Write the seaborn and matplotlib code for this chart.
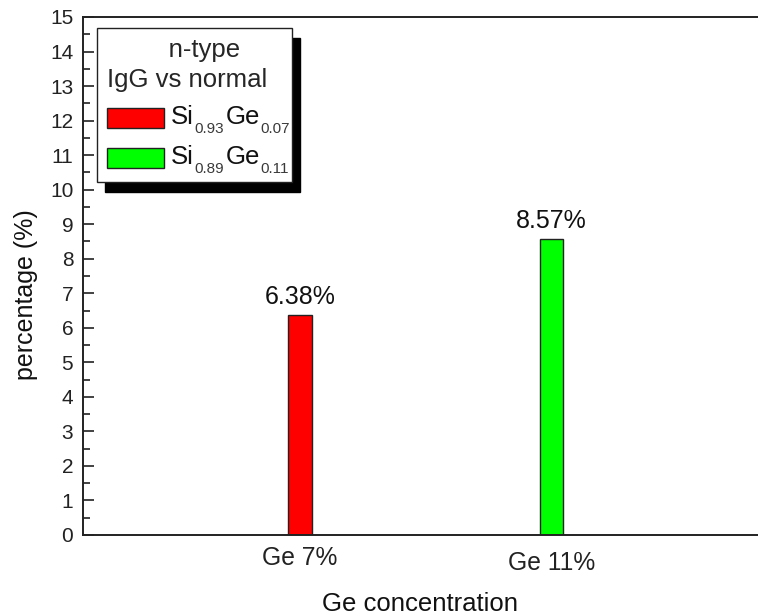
import matplotlib
matplotlib.use("Agg")
import matplotlib.pyplot as plt
from matplotlib.patches import Patch, Rectangle
from matplotlib.text import Text
from matplotlib.textpath import TextToPath
from matplotlib.font_manager import FontProperties
from matplotlib.ticker import MultipleLocator
import seaborn as sns
import pandas as pd

# Data
categories = ["Ge 7%", "Ge 11%"]
percentages = [6.38, 8.57]
# Alloy composition for each legend entry: (Si fraction, Ge fraction)
alloy_si = ["0.93", "0.89"]
alloy_ge = ["0.07", "0.11"]
bar_colors = ["#ff0000", "#00ff00"]

sns.set_style("ticks")
plt.rcParams["font.family"] = ["Liberation Sans", "DejaVu Sans"]

FAMILY = "Liberation Sans"
MAIN_FS, SUB_FS, SUB_DROP = 18.5, 11, 6.5
_ttp = TextToPath()


def text_width(s, size):
    w, _, _ = _ttp.get_text_width_height_descent(
        s, FontProperties(family=FAMILY, size=size), ismath=False)
    return w


class AlloyHandler:
    """Legend handle: a colour swatch followed by a Si(x)Ge(y) formula."""

    def __init__(self, si, ge, swatch_w=41.0, gap=5.0, lift=3.0):
        self.si, self.ge = si, ge
        self.swatch_w, self.gap, self.lift = swatch_w, gap, lift

    def legend_artist(self, legend, orig_handle, fontsize, handlebox):
        x0, y0 = -handlebox.xdescent, -handlebox.ydescent
        h = handlebox.height
        tr = handlebox.get_transform()
        sw = Rectangle((x0, y0), self.swatch_w, h,
                       facecolor=orig_handle.get_facecolor(),
                       edgecolor="#222222", linewidth=1.0, transform=tr)
        handlebox.add_artist(sw)
        base = y0 + self.lift
        x = x0 + self.swatch_w + self.gap
        parts = [("Si", MAIN_FS, 0.0, "#111111"),
                 (self.si, SUB_FS, SUB_DROP, "#3a3a3a"),
                 ("Ge", MAIN_FS, 0.0, "#111111"),
                 (self.ge, SUB_FS, SUB_DROP, "#3a3a3a")]
        for s, size, drop, col in parts:
            t = Text(x, base - drop, s, fontsize=size, family=FAMILY,
                     color=col, ha="left", va="baseline")
            handlebox.add_artist(t)
            x += text_width(s, size) + (1.0 if size == SUB_FS else 0.5)
        return sw


df = pd.DataFrame({"group": categories, "value": percentages})

fig = plt.figure(figsize=(7.58, 6.16), dpi=100)
ax = fig.add_axes([83 / 758, 1 - 535 / 616, 1 - 83 / 758, (535 - 17) / 616])

sns.barplot(data=df, x="group", y="value", hue="group", palette=bar_colors,
            order=categories, hue_order=categories, width=0.0934, saturation=1,
            edgecolor="#222222", linewidth=1.0, legend=False, ax=ax)

for cont in ax.containers:
    ax.bar_label(cont, fmt="%.2f%%", padding=4, fontsize=18, color="#111111")

ax.set_xlim(-0.863, 1.821)
ax.set_ylim(0, 15)
ax.yaxis.set_major_locator(MultipleLocator(1))
ax.yaxis.set_minor_locator(MultipleLocator(0.5))
ax.tick_params(axis="y", which="major", direction="in", length=8, width=1.2,
               pad=7, labelsize=15, colors="#222222")
ax.tick_params(axis="y", which="minor", direction="in", length=5, width=1.2,
               colors="#222222")
ax.tick_params(axis="x", length=0, labelsize=17.7, labelcolor="#222222", pad=8)
ax.xaxis.get_major_ticks()[1].set_pad(11.5)

for side in ["left", "bottom", "top"]:
    ax.spines[side].set_visible(True)
    ax.spines[side].set_linewidth(1.4)
    ax.spines[side].set_color("#222222")
ax.spines["right"].set_visible(False)

ax.set_xlabel("Ge concentration", fontsize=18.5, color="#111111")
ax.set_ylabel("percentage (%)", fontsize=18, color="#111111")
ax.xaxis.set_label_coords(0.5, -0.11)
ax.yaxis.set_label_coords(-0.066, 0.465)

handles = [Patch(facecolor=c) for c in bar_colors]
handler_map = {h: AlloyHandler(s, g) for h, s, g in zip(handles, alloy_si, alloy_ge)}
leg = ax.legend(handles, ["", ""], handler_map=handler_map,
                title="     n-type\nIgG vs normal",
                loc="upper left", bbox_to_anchor=(0.02, 0.979), borderaxespad=0,
                fontsize=MAIN_FS, title_fontsize=18.5, frameon=True, fancybox=False,
                shadow={"ox": 6, "oy": -7, "color": "black", "alpha": 1.0},
                handlelength=6.81, handleheight=0.85, handletextpad=0.0,
                labelspacing=0.62, borderpad=0.4, alignment="left")
leg.get_frame().set_edgecolor("#222222")
leg.get_frame().set_linewidth(1.0)
leg.get_frame().set_alpha(1.0)
leg.get_title().set_multialignment("center")
leg.get_title().set_linespacing(1.3)

fig.savefig("out.png", dpi=100)
